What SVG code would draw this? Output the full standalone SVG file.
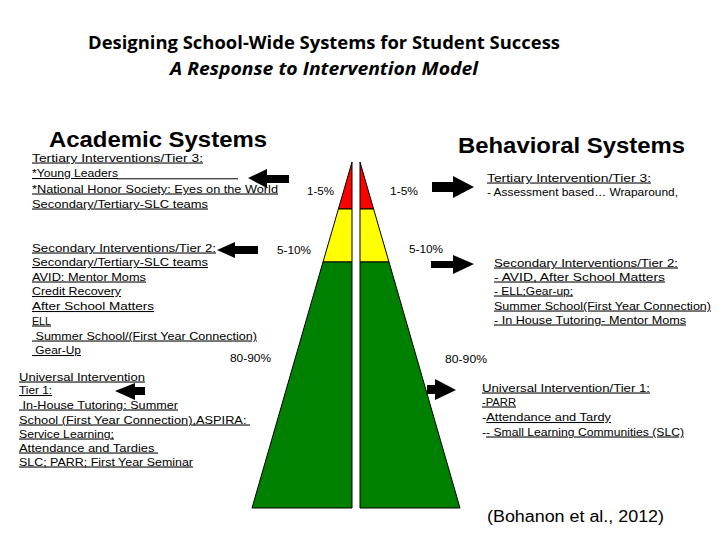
<svg xmlns="http://www.w3.org/2000/svg" width="720" height="540" viewBox="0 0 720 540">
<style>
.t{font-family:"Liberation Sans",Arial,sans-serif;font-size:10.5px;fill:#000}
.u{text-decoration:underline}
.p{font-family:"Liberation Sans",Arial,sans-serif;font-size:11px;fill:#000}
.h{font-family:"Liberation Sans",Arial,sans-serif;font-size:22px;font-weight:bold;fill:#000}
.ti{font-family:"Open Sans","Liberation Sans",sans-serif;font-size:17px;font-weight:bold;fill:#000}
.ar{fill:#000}
.tier{stroke:#000;stroke-width:1}
</style>
<rect width="720" height="540" fill="#fff"/>
<g id="title">
<text class="ti" x="88" y="49" textLength="472" lengthAdjust="spacingAndGlyphs">Designing School-Wide Systems for Student Success</text>
<text class="ti" x="170" y="75" font-style="italic" textLength="308" lengthAdjust="spacingAndGlyphs">A Response to Intervention Model</text>
</g>
<g id="academic-heading"><text class="h" x="49" y="147" textLength="218" lengthAdjust="spacingAndGlyphs">Academic Systems</text></g>
<g id="behavioral-heading"><text class="h" x="458" y="153" textLength="227" lengthAdjust="spacingAndGlyphs">Behavioral Systems</text></g>
<g id="pyramid">
<polygon class="tier" fill="#ff0000" points="352,162 352,209 338.4,209"/>
<polygon class="tier" fill="#ffff00" points="338.4,209 352,209 352,262 323,262"/>
<polygon class="tier" fill="#008000" points="323,262 352,262 352,508 252,508"/>
<polygon class="tier" fill="#ff0000" points="360,162 360,209 373.6,209"/>
<polygon class="tier" fill="#ffff00" points="373.6,209 360,209 360,262 389,262"/>
<polygon class="tier" fill="#008000" points="389,262 360,262 360,508 460,508"/>
</g>
<g id="percent-labels">
<text class="p" x="307" y="195" textLength="27" lengthAdjust="spacingAndGlyphs">1-5%</text>
<text class="p" x="390" y="195" textLength="28" lengthAdjust="spacingAndGlyphs">1-5%</text>
<text class="p" x="277" y="254" textLength="34" lengthAdjust="spacingAndGlyphs">5-10%</text>
<text class="p" x="409" y="253" textLength="34" lengthAdjust="spacingAndGlyphs">5-10%</text>
<text class="p" x="230" y="362" textLength="41" lengthAdjust="spacingAndGlyphs">80-90%</text>
<text class="p" x="445" y="363" textLength="42" lengthAdjust="spacingAndGlyphs">80-90%</text>
</g>
<g id="academic-tier3">
<text class="t u" x="32" y="161.5" textLength="171" lengthAdjust="spacingAndGlyphs">Tertiary Interventions/Tier 3:</text>
<text class="t u" x="32" y="177" textLength="86" lengthAdjust="spacingAndGlyphs">*Young Leaders</text>
<line x1="117" y1="178.8" x2="238" y2="178.8" stroke="#000" stroke-width="1"/>
<text class="t u" x="32" y="192.5" textLength="246" lengthAdjust="spacingAndGlyphs">*National Honor Society: Eyes on the World</text>
<text class="t u" x="32" y="207.5" textLength="176" lengthAdjust="spacingAndGlyphs">Secondary/Tertiary-SLC teams</text>
</g>
<g id="academic-tier2">
<text class="t u" x="32" y="251.5" textLength="184" lengthAdjust="spacingAndGlyphs">Secondary Interventions/Tier 2:</text>
<text class="t u" x="32" y="266" textLength="176" lengthAdjust="spacingAndGlyphs">Secondary/Tertiary-SLC teams</text>
<text class="t u" x="32" y="280.5" textLength="114" lengthAdjust="spacingAndGlyphs">AVID: Mentor Moms</text>
<text class="t u" x="32" y="295" textLength="89" lengthAdjust="spacingAndGlyphs">Credit Recovery</text>
<text class="t u" x="32" y="310" textLength="122" lengthAdjust="spacingAndGlyphs">After School Matters</text>
<text class="t u" x="32" y="324.5" textLength="19" lengthAdjust="spacingAndGlyphs">ELL</text>
<text class="t u" x="32" y="339.5" textLength="225" lengthAdjust="spacingAndGlyphs">&#160;Summer School/(First Year Connection)</text>
<text class="t u" x="32" y="354" textLength="49" lengthAdjust="spacingAndGlyphs">&#160;Gear-Up</text>
</g>
<g id="academic-tier1">
<text class="t u" x="19" y="380.5" textLength="126" lengthAdjust="spacingAndGlyphs">Universal Intervention</text>
<text class="t u" x="19" y="394" textLength="33" lengthAdjust="spacingAndGlyphs">Tier 1:</text>
<text class="t u" x="19" y="408.5" textLength="159" lengthAdjust="spacingAndGlyphs">&#160;In-House Tutoring: Summer</text>
<text class="t u" x="19" y="423.5" textLength="231" lengthAdjust="spacingAndGlyphs">School (First Year Connection),ASPIRA:&#160;</text>
<text class="t u" x="19" y="437.5" textLength="95" lengthAdjust="spacingAndGlyphs">Service Learning;</text>
<text class="t u" x="19" y="451.5" textLength="139" lengthAdjust="spacingAndGlyphs">Attendance and Tardies&#160;</text>
<text class="t u" x="19" y="465.5" textLength="174" lengthAdjust="spacingAndGlyphs">SLC; PARR; First Year Seminar</text>
</g>
<g id="behavioral-tier3">
<text class="t u" x="487" y="181.5" textLength="164" lengthAdjust="spacingAndGlyphs">Tertiary Intervention/Tier 3:</text>
<text class="t" x="487" y="196" textLength="191" lengthAdjust="spacingAndGlyphs">- Assessment based… Wraparound,</text>
</g>
<g id="behavioral-tier2">
<text class="t u" x="494" y="266.5" textLength="184" lengthAdjust="spacingAndGlyphs">Secondary Interventions/Tier 2:</text>
<text class="t u" x="494" y="280.5" textLength="171" lengthAdjust="spacingAndGlyphs">- AVID, After School Matters</text>
<text class="t u" x="494" y="294.5" textLength="79" lengthAdjust="spacingAndGlyphs">- ELL;Gear-up;</text>
<text class="t u" x="494" y="309.5" textLength="217" lengthAdjust="spacingAndGlyphs">Summer School(First Year Connection)</text>
<text class="t u" x="494" y="323.5" textLength="192" lengthAdjust="spacingAndGlyphs">- In House Tutoring- Mentor Moms</text>
</g>
<g id="behavioral-tier1">
<text class="t u" x="482" y="391.5" textLength="168" lengthAdjust="spacingAndGlyphs">Universal Intervention/Tier 1:</text>
<text class="t u" x="482" y="405.5" textLength="34" lengthAdjust="spacingAndGlyphs">-PARR</text>
<text class="t" x="482" y="421" textLength="129" lengthAdjust="spacingAndGlyphs">-<tspan class="u">Attendance and Tardy</tspan></text>
<text class="t" x="482" y="435.5" textLength="202" lengthAdjust="spacingAndGlyphs">-<tspan class="u">- Small Learning Communities (SLC)</tspan></text>
</g>
<g id="citation"><text x="487" y="522" font-family="Liberation Sans, Arial, sans-serif" font-size="16" textLength="177" lengthAdjust="spacingAndGlyphs">(Bohanon et al., 2012)</text></g>
<g id="connectors">
<polygon class="ar" points="248,178 267,169 267,175 289,175 289,183 267,183 267,188"/>
<polygon class="ar" points="217,250 235,242 235,246 258,246 258,254 235,254 235,258"/>
<polygon class="ar" points="115,391 135,383 135,387 145,387 145,395 135,395 135,400"/>
<polygon class="ar" points="474,187 453,176 453,182 432,182 432,192 453,192 453,198"/>
<polygon class="ar" points="474,264 453,255 453,261 431,261 431,268 453,268 453,274"/>
<polygon class="ar" points="456,390 435,379 435,385 427,385 427,394 435,394 435,400"/>
</g>
</svg>
